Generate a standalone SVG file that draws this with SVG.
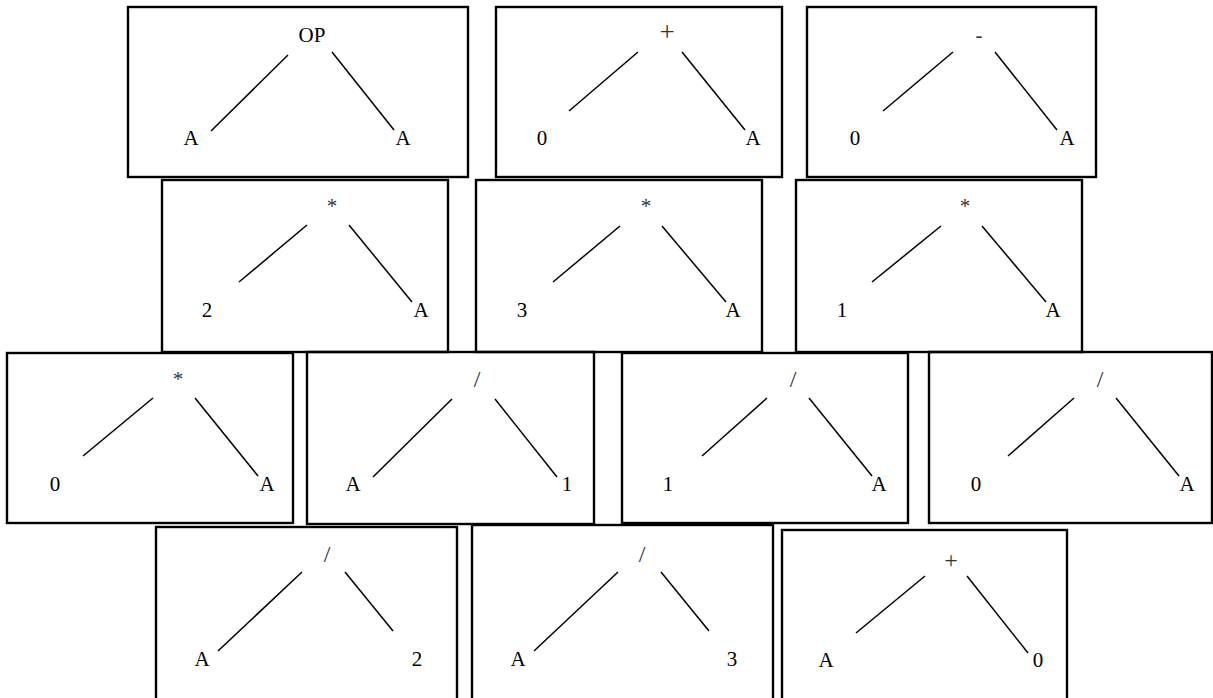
<svg xmlns="http://www.w3.org/2000/svg" width="1213" height="698" viewBox="0 0 1213 698">
<style>
.box{fill:none;stroke:#000;stroke-width:2.4}
.t{font-family:"Liberation Serif","Times New Roman",serif;font-size:21px;fill:#000;text-anchor:middle}
.op{font-family:"Liberation Serif","Times New Roman",serif;font-size:21px;fill:#333;text-anchor:middle}
.sl{font-size:24px}
.pl{font-size:27px}
.e{stroke:#000;stroke-width:1.5;fill:none}
</style>
<rect width="1213" height="698" fill="#fff"/>
<g id="box1"><rect class="box" x="128" y="7" width="340" height="170"/><text class="t" x="312" y="42">OP</text><text class="t" x="191" y="145">A</text><text class="t" x="403" y="145">A</text></g>
<g id="box2"><rect class="box" x="496" y="7" width="286" height="170"/><text class="op pl" x="667" y="41">+</text><text class="t" x="542" y="145">0</text><text class="t" x="753" y="145">A</text></g>
<g id="box3"><rect class="box" x="807" y="7" width="289" height="170"/><text class="op" x="979" y="42">-</text><text class="t" x="855" y="145">0</text><text class="t" x="1067" y="145">A</text></g>
<g id="box4"><rect class="box" x="162" y="180" width="286" height="172"/><text class="op" x="332" y="213">*</text><text class="t" x="207" y="317">2</text><text class="t" x="421" y="317">A</text></g>
<g id="box5"><rect class="box" x="476" y="180" width="286" height="172"/><text class="op" x="646" y="213">*</text><text class="t" x="522" y="317">3</text><text class="t" x="733" y="317">A</text></g>
<g id="box6"><rect class="box" x="796" y="180" width="286" height="172"/><text class="op" x="965" y="213">*</text><text class="t" x="842" y="317">1</text><text class="t" x="1053" y="317">A</text></g>
<g id="box7"><rect class="box" x="7" y="353" width="286" height="170"/><text class="op" x="178" y="386">*</text><text class="t" x="55" y="491">0</text><text class="t" x="267" y="491">A</text></g>
<g id="box8"><rect class="box" x="307" y="352" width="287" height="172"/><text class="op sl" x="477" y="387">/</text><text class="t" x="353" y="491">A</text><text class="t" x="567" y="491">1</text></g>
<g id="box9"><rect class="box" x="622" y="353" width="286" height="170"/><text class="op sl" x="793" y="387">/</text><text class="t" x="668" y="491">1</text><text class="t" x="879" y="491">A</text></g>
<g id="box10"><rect class="box" x="929" y="352" width="283" height="171"/><text class="op sl" x="1100" y="387">/</text><text class="t" x="976" y="491">0</text><text class="t" x="1187" y="491">A</text></g>
<g id="box11"><rect class="box" x="156" y="527" width="301" height="180"/><text class="op sl" x="327" y="562">/</text><text class="t" x="202" y="666">A</text><text class="t" x="417" y="666">2</text></g>
<g id="box12"><rect class="box" x="472" y="525" width="301" height="182"/><text class="op sl" x="642" y="562">/</text><text class="t" x="518" y="666">A</text><text class="t" x="732" y="666">3</text></g>
<g id="box13"><rect class="box" x="782" y="530" width="285" height="177"/><text class="op" x="951" y="568" style="font-size:24px">+</text><text class="t" x="826" y="667">A</text><text class="t" x="1038" y="667">0</text></g>
<g id="connectors">
<line class="e" x1="288" y1="55" x2="211" y2="131"/><line class="e" x1="332" y1="52" x2="394" y2="130"/>
<line class="e" x1="638" y1="52" x2="569" y2="111"/><line class="e" x1="682" y1="52" x2="745" y2="130"/>
<line class="e" x1="953" y1="52" x2="883" y2="111"/><line class="e" x1="995" y1="52" x2="1057" y2="130"/>
<line class="e" x1="307" y1="225" x2="239" y2="282"/><line class="e" x1="349" y1="225" x2="412" y2="302"/>
<line class="e" x1="620" y1="226" x2="553" y2="282"/><line class="e" x1="662" y1="226" x2="726" y2="302"/>
<line class="e" x1="941" y1="226" x2="872" y2="282"/><line class="e" x1="982" y1="226" x2="1046" y2="302"/>
<line class="e" x1="153" y1="398" x2="83" y2="456"/><line class="e" x1="195" y1="398" x2="258" y2="476"/>
<line class="e" x1="452" y1="399" x2="373" y2="477"/><line class="e" x1="495" y1="399" x2="557" y2="477"/>
<line class="e" x1="767" y1="398" x2="702" y2="456"/><line class="e" x1="809" y1="398" x2="872" y2="476"/>
<line class="e" x1="1074" y1="398" x2="1008" y2="456"/><line class="e" x1="1116" y1="398" x2="1179" y2="476"/>
<line class="e" x1="302" y1="572" x2="218" y2="651"/><line class="e" x1="345" y1="572" x2="393" y2="631"/>
<line class="e" x1="618" y1="572" x2="534" y2="651"/><line class="e" x1="661" y1="572" x2="709" y2="631"/>
<line class="e" x1="925" y1="576" x2="856" y2="633"/><line class="e" x1="967" y1="576" x2="1028" y2="653"/>
</g>
</svg>
